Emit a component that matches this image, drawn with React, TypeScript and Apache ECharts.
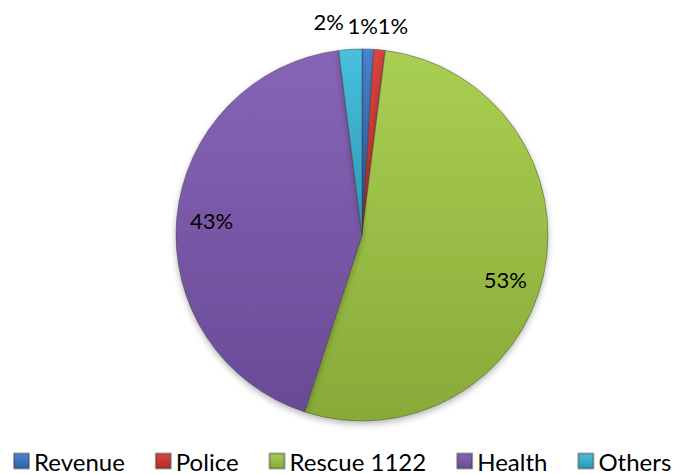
import React, { useEffect, useRef } from "react";
import * as echarts from "echarts";

const categories = ["Revenue", "Police", "Rescue 1122", "Health", "Others"];
const values = [1, 1, 53, 43, 2];
const topColors = ["#4a86d4", "#d9463f", "#a9cf52", "#8665b6", "#49c0dc"];
const bottomColors = ["#2f62a8", "#b02c28", "#88aa38", "#6a4a97", "#2a98b4"];

const FONT = "Lato, 'Open Sans', sans-serif";

export default function App() {
  const ref = useRef<HTMLDivElement>(null);
  useEffect(() => {
    document.body.style.margin = "0";
    const chart = echarts.init(ref.current!, undefined, { renderer: "svg" });
    const grad = (i: number) =>
      new echarts.graphic.LinearGradient(0, 0, 0, 1, [
        { offset: 0, color: topColors[i] },
        { offset: 1, color: bottomColors[i] },
      ]);
    const fmt = (p: any) => Math.round(p.percent) + "%";
    const center = [362, 235];
    const nudges: Record<number, [number, number]> = { 0: [-26, 0], 1: [-9, 0], 4: [0, -4] };
    chart.setOption({
      animation: false,
      backgroundColor: "#ffffff",
      legend: {
        data: categories,
        left: 13,
        top: 449,
        width: 660,
        padding: 0,
        icon: "rect",
        itemWidth: 15,
        itemHeight: 15,
        itemGap: 30,
        textStyle: { fontFamily: FONT, fontSize: 24, color: "#000" },
      },
      series: [
        {
          type: "pie",
          center,
          radius: 186,
          startAngle: 90,
          clockwise: true,
          avoidLabelOverlap: false,
          itemStyle: {
            borderColor: "rgba(60,60,60,0.45)",
            borderWidth: 1,
            shadowBlur: 6,
            shadowOffsetY: 3,
            shadowColor: "rgba(0,0,0,0.28)",
          },
          label: {
            position: "outside",
            formatter: fmt,
            fontFamily: FONT,
            fontSize: 22,
            color: "#000",
            distanceToLabelLine: 5,
          },
          labelLine: { show: false, length: 24, length2: 0 },
          labelLayout: (params: any) => {
            const n = nudges[params.dataIndex];
            return n ? { dx: n[0], dy: n[1] } : {};
          },
          data: values.map((v, i) => ({
            name: categories[i],
            value: v,
            itemStyle: { color: grad(i) },
            label: { show: v < 10 },
          })),
        },
        {
          type: "pie",
          center,
          radius: [110, 186],
          startAngle: 90,
          clockwise: true,
          silent: true,
          avoidLabelOverlap: false,
          itemStyle: { color: "rgba(0,0,0,0)", borderWidth: 0 },
          label: {
            position: "inside",
            formatter: fmt,
            fontFamily: FONT,
            fontSize: 22,
            color: "#000",
          },
          labelLayout: (params: any) => (params.dataIndex === 2 ? { dx: -4, dy: 12 } : { dx: 0 }),
          labelLine: { show: false },
          data: values.map((v, i) => ({
            name: categories[i],
            value: v,
            label: { show: v >= 10 },
          })),
        },
      ],
    });
    return () => chart.dispose();
  }, []);
  return <div ref={ref} style={{ width: 673, height: 474 }} />;
}
